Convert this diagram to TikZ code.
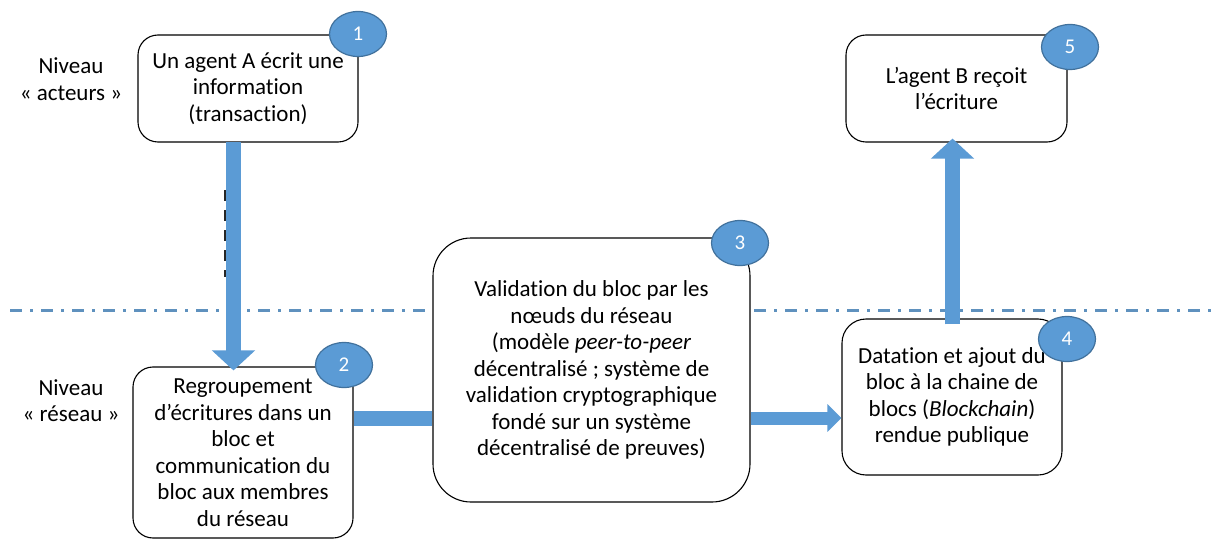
\documentclass[tikz,border=0pt]{standalone}
\usepackage{fontspec}
\setmainfont{Carlito}[Ligatures=NoCommon]
\usetikzlibrary{arrows.meta,shapes.geometric}
\definecolor{offblue}{RGB}{91,155,213}
\definecolor{offdark}{RGB}{65,113,156}
\definecolor{lineblue}{RGB}{95,145,190}
\begin{document}
\begin{tikzpicture}[x=1pt,y=-1pt,
  box/.style={draw=black, line width=1.1pt, fill=white, rounded corners=20pt,
    align=center, font=\fontsize{23}{26.5}\selectfont, inner sep=0pt},
  num/.style={ellipse, fill=offblue, draw=offdark, line width=1.2pt,
    minimum width=57pt, minimum height=45pt, inner sep=0pt, text=white,
    font=\fontsize{21}{24}\selectfont},
  lbl/.style={align=center, font=\fontsize{23}{26.5}\selectfont},
  shaft/.style={draw=offblue, line width=15pt},
  blk/.style={draw=offblue, line width=15pt, -{Triangle[length=20pt,width=42pt]}},
  level/.style={draw=lineblue, line width=3pt, dash pattern=on 12pt off 8pt on 3pt off 8pt},
  artefact/.style={draw=black!85, line width=1.4pt, dash pattern=on 11pt off 9pt}]
\useasboundingbox (0,0) rectangle (1215,540);
\fill[white] (0,0) rectangle (1215,540);

% level separator
\coordinate (sepL) at (10,310);
\coordinate (sepR) at (1215,310);
\draw[level] (sepL) -- (sepR);

% level labels
\node[lbl] (l1) at (71,79) {Niveau\\« acteurs »};
\node[lbl] (l2) at (71,400.5) {Niveau\\« réseau »};

% boxes
\node[box, minimum width=220pt, minimum height=107pt] (b1) at (248,88.5)
  {Un agent A écrit une\\information\\(transaction)};
\node[box, minimum width=220pt, minimum height=171pt] (b2) at (243,452.5)
  {Regroupement\\d’écritures dans un\\bloc et\\communication du\\bloc aux membres\\du réseau};
\node[box, rounded corners=38pt, minimum width=317pt, minimum height=264pt] (b3) at (591.5,370)
  {Validation du bloc par les\\nœuds du réseau\\(modèle \textit{peer-to-peer}\\décentralisé ; système de\\validation cryptographique\\fondé sur un système\\décentralisé de preuves)};
\node[box, rounded corners=24pt, minimum width=220pt, minimum height=156pt] (b4) at (952,397)
  {Datation et ajout du\\bloc à la chaine de\\blocs (\textit{Blockchain})\\rendue publique};
\node[box, minimum width=221pt, minimum height=107pt] (b5) at (956.5,88.5)
  {L’agent B reçoit\\l’écriture};

% artefact dashes beside the first arrow
\coordinate (artA) at (225,190);
\coordinate (artB) at (225,277);
\draw[artefact] (artA) -- (artB);

% connectors
\coordinate (xA) at (233.5,0);
\coordinate (xB) at (952.5,0);
\coordinate (yA) at (0,418);
\draw[blk, shorten <=-1pt, shorten >=-4pt] (xA |- b1.south) -- (xA |- b2.north);
\draw[shaft] (b2.east |- yA) -- (b3.west |- yA);
\draw[draw=offblue, line width=13pt, -{Triangle[length=14pt,width=27pt]}] (b3.east |- yA) -- (b4.west |- yA);
\draw[blk, shorten <=-6pt, shorten >=-4pt] (xB |- b4.north) -- (xB |- b5.south);

% step numbers
\node[num] (n1) at (358,34) {1};
\node[num] (n2) at (344,365) {2};
\node[num] (n3) at (740,243) {3};
\node[num] (n4) at (1067,339) {4};
\node[num] (n5) at (1070,47) {5};
\end{tikzpicture}
\end{document}
